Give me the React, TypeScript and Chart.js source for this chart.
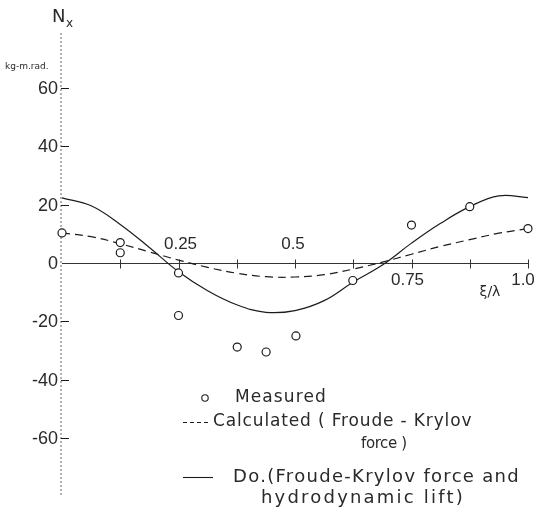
import React, { useEffect, useRef } from "react";
import { Chart, registerables } from "chart.js";

Chart.register(...registerables);

// ---- data ----
const curveX = [0, 0.0625, 0.125, 0.1875, 0.25, 0.3125, 0.375, 0.4375, 0.5, 0.5625, 0.625, 0.6875, 0.75, 0.8125, 0.875, 0.9375, 1.0];
const froudeKrylov = [10.3, 9, 6.6, 3.8, 1, -1.5, -3.5, -4.7, -4.8, -4, -2.1, 0.3, 3, 5.7, 8, 10.2, 11.8];
const withLift = [22.3, 19.6, 13.2, 5.3, -3.0, -9.5, -14.3, -16.9, -16.3, -12.9, -6.5, -0.7, 6.8, 13.6, 19.3, 23, 22.4];
const measuredX = [0, 0.125, 0.125, 0.25, 0.25, 0.376, 0.438, 0.502, 0.624, 0.75, 0.875, 1.0];
const measuredY = [10.3, 7, 3.5, -3.4, -18, -28.8, -30.5, -25, -6, 13, 19.3, 11.8];
const yTickValues = [60, 40, 20, 0, -20, -40, -60];
const yTickLabels = ["60", "40", "20", "0", "-20", "-40", "-60"];
const xTickValues = [0.125, 0.25, 0.375, 0.5, 0.625, 0.75, 0.875, 1.0];
const xLabelValues = [0.25, 0.5, 0.75, 1.0];
const xLabelTexts = ["0.25", "0.5", "0.75", "1.0"];

const INK = "#1c1c1c";
const TEXT = "#2a2a2a";

const axesPlugin = {
  id: "paperAxes",
  beforeDatasetsDraw(chart: any) {
    const ctx = chart.ctx as CanvasRenderingContext2D;
    const xs = chart.scales.x;
    const ys = chart.scales.y;
    const x0 = xs.getPixelForValue(0);
    const y0 = ys.getPixelForValue(0);
    ctx.save();
    // y axis (dotted, faint)
    ctx.strokeStyle = "#666";
    ctx.lineWidth = 1;
    ctx.setLineDash([2, 2]);
    ctx.beginPath();
    ctx.moveTo(x0 - 1, chart.chartArea.top);
    ctx.lineTo(x0 - 1, chart.chartArea.bottom);
    ctx.stroke();
    ctx.setLineDash([]);
    // y ticks
    ctx.strokeStyle = INK;
    yTickValues.forEach((v) => {
      if (v === 0) return;
      const py = Math.round(ys.getPixelForValue(v)) + 0.5;
      ctx.beginPath();
      ctx.moveTo(x0 - 1, py);
      ctx.lineTo(x0 + 7, py);
      ctx.stroke();
    });
    // x axis along y = 0
    ctx.strokeStyle = "#333";
    const ay = Math.round(y0) + 0.5;
    ctx.beginPath();
    ctx.moveTo(x0, ay);
    ctx.lineTo(xs.getPixelForValue(1.0), ay);
    ctx.stroke();
    xTickValues.forEach((v) => {
      const px = Math.round(xs.getPixelForValue(v)) + 0.5;
      ctx.beginPath();
      ctx.moveTo(px, ay - 4);
      ctx.lineTo(px, ay + 5);
      ctx.stroke();
    });
    ctx.restore();
  },
  afterDraw(chart: any) {
    const ctx = chart.ctx as CanvasRenderingContext2D;
    const xs = chart.scales.x;
    const ys = chart.scales.y;
    const x0 = xs.getPixelForValue(0);
    const y0 = ys.getPixelForValue(0);
    ctx.save();
    ctx.fillStyle = TEXT;
    // y tick labels
    ctx.font = "18px 'Liberation Sans', sans-serif";
    ctx.textAlign = "right";
    ctx.textBaseline = "middle";
    yTickValues.forEach((v, i) => {
      ctx.fillText(yTickLabels[i], x0 - 4, ys.getPixelForValue(v) + 1);
    });
    // x labels
    ctx.font = "17px 'Liberation Sans', sans-serif";
    ctx.textAlign = "center";
    xLabelValues.forEach((v, i) => {
      const px = xs.getPixelForValue(v);
      if (v <= 0.5) {
        ctx.textBaseline = "bottom";
        ctx.fillText(xLabelTexts[i], px + (v === 0.5 ? -2 : 2), y0 - 10);
      } else {
        ctx.textBaseline = "top";
        ctx.fillText(xLabelTexts[i], px + (v === 1.0 ? -5 : -4), y0 + 9);
      }
    });
    // axis titles
    ctx.textAlign = "left";
    ctx.textBaseline = "alphabetic";
    ctx.font = "18px 'DejaVu Sans', sans-serif";
    ctx.fillText("N", 52, 22);
    ctx.font = "12px 'DejaVu Sans', sans-serif";
    ctx.fillText("x", 66, 27);
    ctx.font = "9px 'DejaVu Sans', sans-serif";
    ctx.fillText("kg-m.rad.", 5, 69);
    ctx.font = "14px 'DejaVu Sans', sans-serif";
    ctx.textAlign = "center";
    ctx.textBaseline = "middle";
    ctx.fillText("ξ/λ", 490, 292);

    // legend
    const lx = 183;
    ctx.textAlign = "left";
    ctx.textBaseline = "middle";
    ctx.strokeStyle = INK;
    ctx.lineWidth = 1.1;
    const txt = (s: string, x: number, y: number, size: number, ls: number) => {
      ctx.font = `${size}px 'DejaVu Sans', sans-serif`;
      (ctx as any).letterSpacing = `${ls}px`;
      ctx.fillText(s, x, y);
    };
    // measured
    ctx.beginPath();
    ctx.arc(205, 398, 3.2, 0, Math.PI * 2);
    ctx.stroke();
    txt("Measured", 235, 398, 17, 1.1);
    // dashed
    ctx.setLineDash([4, 3]);
    ctx.beginPath();
    ctx.moveTo(lx, 422.5);
    ctx.lineTo(lx + 26, 422.5);
    ctx.stroke();
    ctx.setLineDash([]);
    txt("Calculated ( Froude - Krylov", 213, 422, 17, 0.85);
    txt("force )", 361, 444, 15, -0.4);
    // solid
    ctx.beginPath();
    ctx.moveTo(lx, 477.5);
    ctx.lineTo(lx + 30, 477.5);
    ctx.stroke();
    txt("Do.(Froude-Krylov force and", 233, 477, 18, 1.3);
    txt("hydrodynamic lift)", 261, 498, 18, 2.2);
    ctx.restore();
  },
};

export default function App() {
  const ref = useRef<HTMLCanvasElement | null>(null);
  useEffect(() => {
    if (!ref.current) return;
    const chart = new Chart(ref.current, {
      type: "line",
      data: {
        datasets: [
          {
            label: "Measured",
            data: measuredX.map((x, i) => ({ x, y: measuredY[i] })),
            showLine: false,
            pointRadius: 4,
            pointBorderWidth: 1.2,
            pointBorderColor: INK,
            pointBackgroundColor: "#ffffff",
            borderColor: INK,
            clip: false,
            order: 0,
          },
          {
            label: "Calculated (Froude-Krylov force)",
            data: curveX.map((x, i) => ({ x, y: froudeKrylov[i] })),
            borderColor: INK,
            borderWidth: 1.2,
            borderDash: [8, 5],
            pointRadius: 0,
            tension: 0.4,
            fill: false,
            clip: false,
            order: 1,
          },
          {
            label: "Do. (Froude-Krylov force and hydrodynamic lift)",
            data: curveX.map((x, i) => ({ x, y: withLift[i] })),
            borderColor: INK,
            borderWidth: 1.2,
            pointRadius: 0,
            tension: 0.4,
            fill: false,
            clip: false,
            order: 2,
          },
        ],
      },
      options: {
        responsive: false,
        animation: false,
        devicePixelRatio: 1,
        layout: { padding: { left: 62, right: 6, top: 33, bottom: 22 } },
        scales: {
          x: { type: "linear", min: 0, max: 1.0, display: false },
          y: { type: "linear", min: -79.5, max: 78.8, display: false },
        },
        plugins: {
          legend: { display: false },
          tooltip: { enabled: false },
        },
        events: [],
      },
      plugins: [axesPlugin],
    });
    return () => chart.destroy();
  }, []);
  return (
    <div style={{ position: "fixed", left: 0, top: 0, width: 534, height: 517, background: "#fff" }}>
      <canvas ref={ref} width={534} height={517} style={{ display: "block" }} />
    </div>
  );
}
